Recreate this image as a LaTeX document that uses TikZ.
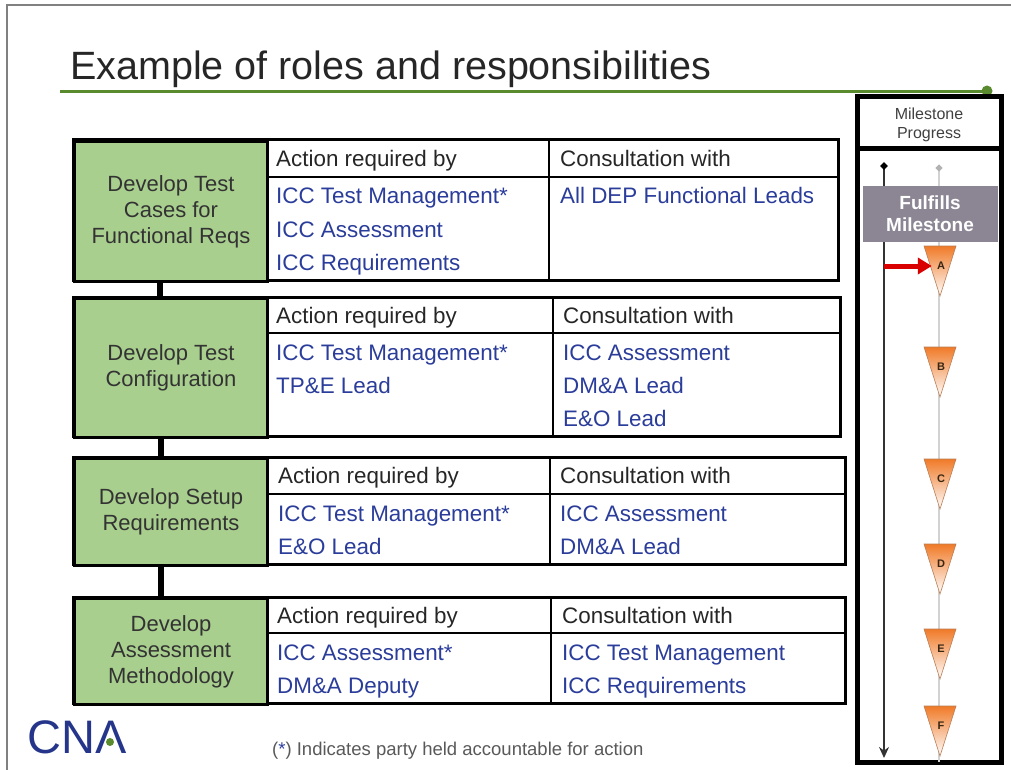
\documentclass[tikz,border=0pt]{standalone}
\usepackage{fontspec}
\setmainfont{Liberation Sans}
\usetikzlibrary{arrows.meta}
\usetikzlibrary{shapes.geometric}
\definecolor{cellgreen}{HTML}{A9CF8E}
\definecolor{roleblue}{HTML}{2B3D9B}
\definecolor{titlegreen}{HTML}{5A8A2E}
\definecolor{cnablue}{HTML}{24358A}
\definecolor{fulgray}{HTML}{8C8694}
\definecolor{mileorange}{HTML}{F07A28}

\begin{document}
\begin{tikzpicture}[x=1pt,y=-1pt]
    \tikzstyle{frame}=[draw=black, line width=3pt]
    \tikzstyle{inner}=[draw=black, line width=2pt]
    \tikzstyle{task}=[frame, fill=cellgreen, anchor=north west, align=center
    , text=black!80, inner sep=0pt, minimum width=193pt
    , font=\fontsize{22}{26}\selectfont]
    \tikzstyle{head}=[anchor=base west, inner sep=0pt, text=black!85
    , font=\fontsize{22.4}{26}\selectfont]
    \tikzstyle{role}=[head, text=roleblue]
    \tikzstyle{link}=[line width=6pt]
    \tikzstyle{mile}=[font=\bfseries\fontsize{11}{11}\selectfont, text=black!70!brown, inner sep=0pt]
    \useasboundingbox (0,0) rectangle (1011,770);
    % Page frame and title
    \draw[gray, line width=1.5pt] (7,770) -- (7,5) -- (1011,5);
    \node[anchor=base west, inner sep=0pt, text=black!85, font=\fontsize{39.5}{44}\selectfont] (title) at (70,80) {Example of roles and responsibilities};
    \draw[titlegreen, line width=3pt] (60,92) -- (985,92);
    \fill[titlegreen] (987,91) circle (5.5);
    % Table 1
    \draw[frame, fill=white] (73,140) rectangle (838,280);
    \draw[inner] (265,177) -- (838,177) (549,140) -- (549,280);
    \node[task, minimum height=140pt] (t1) at (73,140) {Develop Test\\Cases for\\Functional Reqs};
    \node[head] (t1a) at (276,167) {Action required by};
    \node[head] (t1c) at (560,167) {Consultation with};
    \node[role] (t1a1) at (276,204) {ICC Test Management*};
    \node[role] (t1a2) at (276,237) {ICC Assessment};
    \node[role] (t1a3) at (276,270) {ICC Requirements};
    \node[role] (t1c1) at (560,204) {All DEP Functional Leads};
    % Table 2
    \draw[frame, fill=white] (73,297) rectangle (840,436);
    \draw[inner] (265,333) -- (840,333) (553,297) -- (553,436);
    \node[task, minimum height=139pt] (t2) at (73,297) {Develop Test\\Configuration};
    \node[head] (t2a) at (276,323) {Action required by};
    \node[head] (t2c) at (563,323) {Consultation with};
    \node[role] (t2a1) at (276,360) {ICC Test Management*};
    \node[role] (t2a2) at (276,393) {TP\&E Lead};
    \node[role] (t2c1) at (563,360) {ICC Assessment};
    \node[role] (t2c2) at (563,393) {DM\&A Lead};
    \node[role] (t2c3) at (563,426) {E\&O Lead};
    % Table 3
    \draw[frame, fill=white] (73,457) rectangle (845,564);
    \draw[inner] (267,494) -- (845,494) (550,457) -- (550,564);
    \node[task, minimum height=107pt] (t3) at (73,457) {Develop Setup\\Requirements};
    \node[head] (t3a) at (278,483) {Action required by};
    \node[head] (t3c) at (560,483) {Consultation with};
    \node[role] (t3a1) at (278,521) {ICC Test Management*};
    \node[role] (t3a2) at (278,554) {E\&O Lead};
    \node[role] (t3c1) at (560,521) {ICC Assessment};
    \node[role] (t3c2) at (560,554) {DM\&A Lead};
    % Table 4
    \draw[frame, fill=white] (73,597) rectangle (845,703);
    \draw[inner] (266,633) -- (845,633) (551,597) -- (551,703);
    \node[task, minimum height=106pt] (t4) at (73,597) {Develop\\Assessment\\Methodology};
    \node[head] (t4a) at (277,623) {Action required by};
    \node[head] (t4c) at (562,623) {Consultation with};
    \node[role] (t4a1) at (277,660) {ICC Assessment*};
    \node[role] (t4a2) at (277,693) {DM\&A Deputy};
    \node[role] (t4c1) at (562,660) {ICC Test Management};
    \node[role] (t4c2) at (562,693) {ICC Requirements};
    % Links between the tables
    \draw[link] ([xshift=-11pt]t1.south) -- ([xshift=-11pt]t2.north);
    \draw[link] ([xshift=-10pt]t2.south) -- ([xshift=-10pt]t3.north);
    \draw[link] ([xshift=-10pt]t3.south) -- ([xshift=-10pt]t4.north);
    % Footer
    \node[anchor=base west, inner sep=0pt, text=cnablue, font=\fontsize{47}{47}\selectfont] (cna) at (27,753) {CNΛ};
    \fill[titlegreen] (110,742) circle (4);
    \node[anchor=base west, inner sep=0pt, text=black!65, font=\fontsize{18.5}{22}\selectfont] (note) at (272,755) {(\textcolor{roleblue}{*}) Indicates party held accountable for action};
    % Milestone progress
    \draw[line width=5pt] (857,97) rectangle (1001,762);
    \draw[line width=5pt] (857,149) -- (1001,149);
    \node[align=center, text=black!75, font=\fontsize{16}{19}\selectfont] (mhead) at (929,125) {Milestone\\Progress};
    \coordinate (gtop) at (939,168);
    \coordinate (gend) at (939,762);
    \draw[gray!35, line width=1.5pt] (gtop) -- (gend);
    \node[diamond, fill=gray!60, inner sep=1.8pt] (gdot) at (gtop) {};
    \coordinate (ttop) at (884,166);
    \coordinate (tend) at (884,758);
    \draw[black!80, line width=1.5pt, -{Stealth[length=11pt,width=10pt]}] (ttop) -- (tend);
    \node[diamond, fill=black, inner sep=2pt] (tdot) at (ttop) {};
    \node[fill=fulgray, minimum width=135pt, minimum height=55pt, align=center
    , text=white, font=\bfseries\fontsize{19}{22}\selectfont] (ful) at (930,214) {Fulfills\\Milestone};
    \foreach \l/\y in {A/246,B/347,C/459,D/544,E/629,F/706} {
        \shade[top color=mileorange, middle color=mileorange!45, bottom color=white]
            (924,\y) -- (956,\y) -- (940,\y+50) -- cycle;
        \draw[mileorange!50!gray, line width=0.6pt] (924,\y) -- (956,\y) -- (940,\y+50) -- cycle;
        \node[mile] (m\l) at (941,\y+20) {\l};
    }
    \draw[red!85!black, line width=5pt, -{Triangle[length=14pt,width=16pt]}] (ttop |- mA.west) -- ([xshift=-5pt]mA.west);
\end{tikzpicture}
\end{document}
